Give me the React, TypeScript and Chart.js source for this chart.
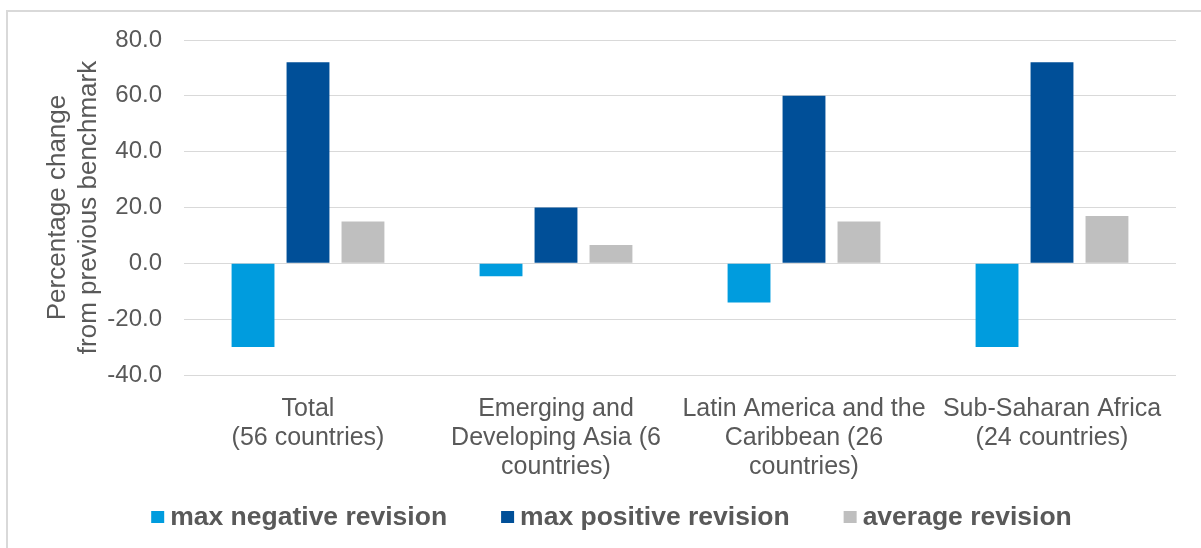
import React, { useEffect, useRef } from "react";
import { Chart, registerables } from "chart.js";

Chart.register(...registerables);

const categories: string[][] = [
  ["Total", "(56 countries)"],
  ["Emerging and", "Developing Asia (6", "countries)"],
  ["Latin America and the", "Caribbean (26", "countries)"],
  ["Sub-Saharan Africa", "(24 countries)"],
];

const maxNegative = [-30, -4.6, -14, -30];
const maxPositive = [72, 20, 60, 72];
const averageRevision = [15, 6.6, 15, 17];

const seriesNames = ["max negative revision", "max positive revision", "average revision"];
const seriesColors = ["#009CDE", "#004F98", "#BFBFBF"];

const yTitle = ["Percentage change", "from previous benchmark"];
const yMin = -40;
const yMax = 80;
const yStep = 20;

const FONT = "'Liberation Sans', Arial, sans-serif";
const TEXT = "#595959";

const bottomLegend = {
  id: "bottomLegend",
  afterDraw(chart: any) {
    const ctx = chart.ctx;
    const items = chart.data.datasets.map((d: any) => ({ text: d.label, color: d.backgroundColor }));
    const box = 13;
    const boxH = 12;
    const gapText = 6;
    const gapItem = 54;
    const centerX = 611.5;
    const centerY = 517;
    ctx.save();
    ctx.font = `bold 26.5px ${FONT}`;
    ctx.textBaseline = "middle";
    ctx.textAlign = "left";
    const widths = items.map((it: any) => box + gapText + ctx.measureText(it.text).width);
    const total = widths.reduce((a: number, b: number) => a + b, 0) + gapItem * (items.length - 1);
    let x = centerX - total / 2;
    items.forEach((it: any, i: number) => {
      ctx.fillStyle = it.color;
      ctx.fillRect(x, centerY - boxH / 2, box, boxH);
      ctx.fillStyle = TEXT;
      ctx.fillText(it.text, x + box + gapText, centerY + 1);
      x += widths[i] + gapItem;
    });
    ctx.restore();
  },
};

export default function App() {
  const ref = useRef<HTMLCanvasElement>(null);

  useEffect(() => {
    if (!ref.current) return;
    const chart = new Chart(ref.current, {
      type: "bar",
      data: {
        labels: categories,
        datasets: [maxNegative, maxPositive, averageRevision].map((d, i) => ({
          label: seriesNames[i],
          data: d,
          backgroundColor: seriesColors[i],
          borderWidth: 0,
          barPercentage: 0.78,
          categoryPercentage: 0.665,
        })),
      },
      plugins: [bottomLegend],
      options: {
        animation: false,
        responsive: false,
        maintainAspectRatio: false,
        layout: { padding: { left: 0, right: 25, top: 40, bottom: 53 } },
        plugins: {
          legend: { display: false },
          tooltip: { enabled: false },
        },
        scales: {
          x: {
            grid: { display: false },
            border: { display: false },
            ticks: {
              color: TEXT,
              font: { size: 25, family: FONT, lineHeight: "29px" },
              padding: 12,
              maxRotation: 0,
              autoSkip: false,
            },
            afterFit: (s: any) => {
              s.height = 120;
            },
          },
          y: {
            min: yMin,
            max: yMax,
            grid: { color: "#D9D9D9", drawTicks: false, lineWidth: 1 },
            border: { display: false },
            ticks: {
              stepSize: yStep,
              color: TEXT,
              padding: 22,
              font: { size: 24, family: FONT },
              callback: (v: any) => Number(v).toFixed(1),
            },
            title: {
              display: true,
              text: yTitle,
              color: TEXT,
              font: { size: 26, family: FONT, lineHeight: "31px" },
              padding: { top: 42, bottom: 0 },
            },
            afterFit: (s: any) => {
              s.width = 184;
            },
          },
        },
      },
    } as any);
    return () => chart.destroy();
  }, []);

  return (
    <div
      style={{
        position: "absolute",
        left: 0,
        top: 0,
        width: 1201,
        height: 548,
        background: "#fff",
        overflow: "hidden",
      }}
    >
      <div
        style={{
          position: "absolute",
          left: 6,
          top: 10,
          width: 1300,
          height: 600,
          borderLeft: "2px solid #D9D9D9",
          borderTop: "2px solid #D9D9D9",
          boxSizing: "border-box",
        }}
      />
      <canvas
        ref={ref}
        width={1201}
        height={548}
        style={{ position: "absolute", left: 0, top: 0, width: 1201, height: 548 }}
      />
    </div>
  );
}
